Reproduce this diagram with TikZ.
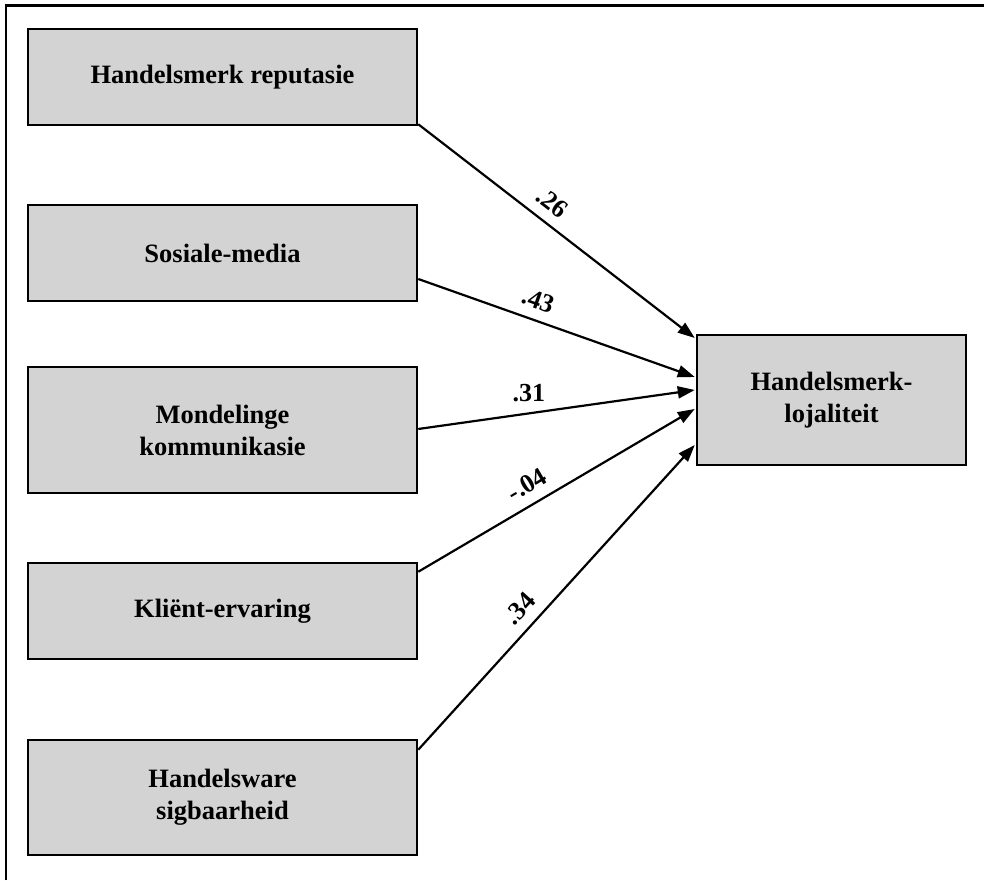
\documentclass[tikz,border=0pt]{standalone}
\usepackage{fontspec}
\setmainfont{Liberation Serif}
\usetikzlibrary{arrows.meta,calc}
\definecolor{boxgray}{RGB}{211,211,211}
\begin{document}
\begin{tikzpicture}[x=1pt,y=1pt,
  box/.style={draw=black, line width=2.5pt, fill=boxgray, align=center,
    font=\fontsize{26.5}{32}\selectfont\bfseries, inner sep=0pt,
    minimum width=389pt},
  conn/.style={line width=2.2pt, -{Triangle[length=17pt,width=12pt]}},
  coef/.style={font=\fontsize{26}{30}\selectfont\bfseries, inner sep=0pt, above=10pt}]
\useasboundingbox (0,0) rectangle (984,880);
\fill[white] (0,0) rectangle (984,880);
% outer frame (only top and left visible)
\draw[line width=2.5pt] (6,0) -- (6,874.5) -- (984,874.5);

\node[box, minimum height=96pt] (b1) at (222.5,803) {Handelsmerk reputasie};
\node[box, minimum height=96pt] (b2) at (222.5,627) {Sosiale-media};
\node[box, minimum height=126pt] (b3) at (222.5,450) {Mondelinge\\kommunikasie};
\node[box, minimum height=96pt] (b4) at (222.5,269) {Kliënt-ervaring};
\node[box, minimum height=115pt] (b5) at (222.5,82.5) {Handelsware\\sigbaarheid};
\node[box, minimum width=269pt, minimum height=130pt] (t) at (831.5,480) {Handelsmerk-\\lojaliteit};

\draw[conn] ($(b1.south east)+(0,2)$) -- node[coef, sloped, pos=0.44] {.26} ($(t.west)+(-1,62)$);
\draw[conn] ($(b2.east)+(0,-26)$) -- node[coef, sloped, pos=0.41] {.43} ($(t.west)+(-1,23)$);
\draw[conn] ($(b3.east)+(0,1)$) -- node[coef, pos=0.40] {.31} ($(t.west)+(-1,10)$);
\draw[conn] ($(b4.north east)+(0,-10)$) -- node[coef, sloped, pos=0.43] {-.04} ($(t.west)+(-1,-9)$);
\draw[conn] ($(b5.north east)+(0,-11)$) -- node[coef, sloped, pos=0.42] {.34} ($(t.west)+(-1,-45)$);
\end{tikzpicture}
\end{document}
